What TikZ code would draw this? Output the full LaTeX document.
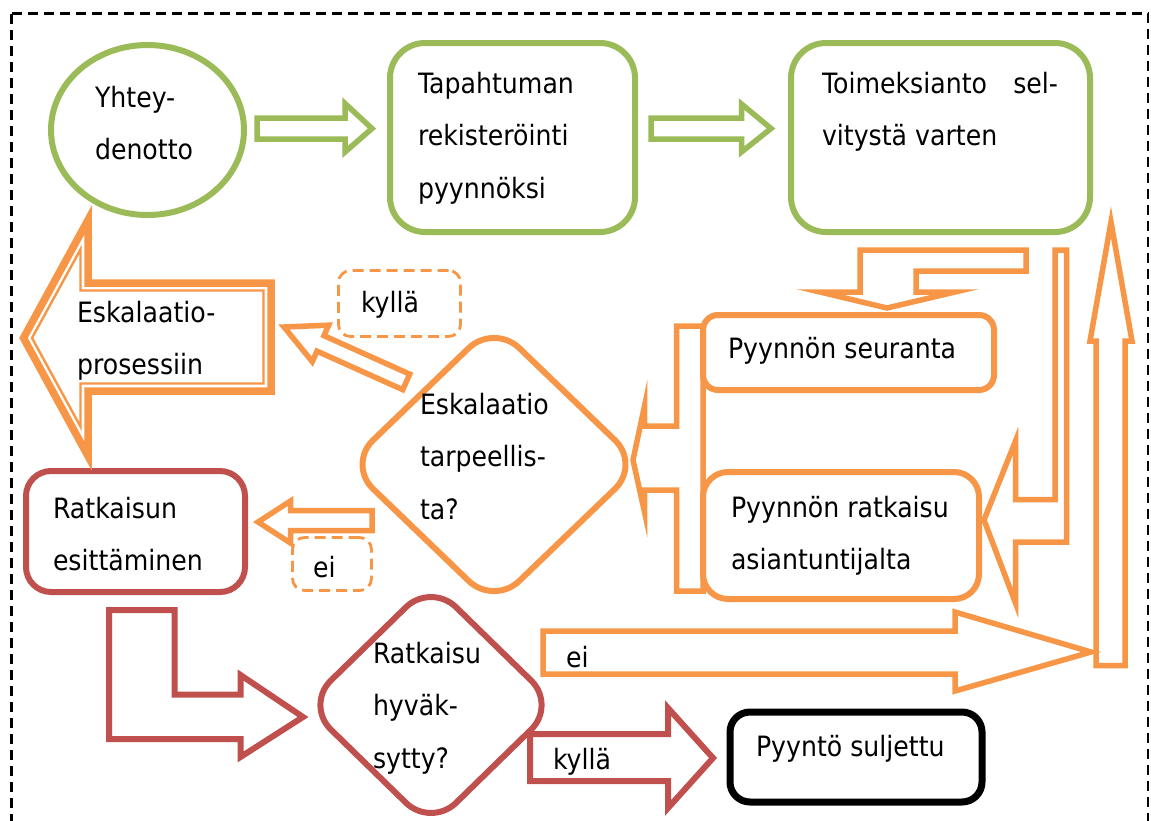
\documentclass[tikz,border=0pt]{standalone}
\usepackage{fontspec}
\setmainfont{DejaVu Sans}[FakeStretch=0.9]
\usetikzlibrary{shapes.geometric}
\definecolor{cg}{HTML}{9BBB59}
\definecolor{co}{HTML}{F79646}
\definecolor{cr}{HTML}{C0504D}
\newcommand{\mlines}[1]{\begin{tabular}[t]{@{}l@{}}#1\end{tabular}}
\begin{document}
\begin{tikzpicture}[x=1pt,y=-1pt,
  txt/.style={anchor=base west, inner sep=0pt, outer sep=0pt, font=\fontsize{28}{52.5}\selectfont},
  gbox/.style={draw=cg, line width=6pt, fill=white, rounded corners=35pt, inner sep=0pt},
  obox/.style={draw=co, line width=6pt, fill=white, inner sep=0pt},
  rbox/.style={draw=cr, line width=6pt, fill=white, inner sep=0pt},
  garrow/.style={draw=cg, line width=5.5pt, fill=white},
  oarrow/.style={draw=co, line width=5.5pt, fill=white},
  rarrow/.style={draw=cr, line width=6pt, fill=white},
  dbox/.style={draw=co, line width=2.8pt, dash pattern=on 11pt off 6pt, rounded corners=12pt, inner sep=0pt}
]
\useasboundingbox (0,0) rectangle (1151,820);
\clip (0,0) rectangle (1151,820);
\draw[line width=2.8pt, dash pattern=on 10pt off 6pt] (11.5,13.5) rectangle (1148,850);

% bracket arrow behind the two request boxes
\draw[oarrow] (703,326) -- (676.5,326) -- (676.5,426) -- (644.5,426) -- (644.5,406)
  -- (633,460) -- (644.5,512) -- (644.5,490) -- (676.5,490) -- (676.5,591) -- (703,591) -- cycle;

% boxes
\node[ellipse, draw=cg, line width=6pt, fill=white, minimum width=193pt, minimum height=170pt, inner sep=0pt] (contact) at (147.5,130) {};
\node[gbox, minimum width=245pt, minimum height=189pt] (register) at (512.5,137.5) {};
\node[gbox, minimum width=299pt, minimum height=189pt] (assign) at (940.5,137.5) {};
\node[obox, rounded corners=15pt, minimum width=291pt, minimum height=75pt] (follow) at (848.5,352.5) {};
\node[obox, rounded corners=25pt, minimum width=276pt, minimum height=127pt] (solve) at (841,535.5) {};
\node[rbox, rounded corners=25pt, minimum width=219pt, minimum height=121pt] (present) at (135.5,531.5) {};
\node[draw=black, line width=7pt, fill=white, rounded corners=20pt, minimum width=252pt, minimum height=90pt, inner sep=0pt] (closed) at (856,757) {};
\node[diamond, draw=co, line width=6pt, fill=white, rounded corners=35pt, minimum width=295pt, minimum height=284pt, inner sep=0pt] (esc) at (494,464.5) {};
\node[diamond, draw=cr, line width=6pt, fill=white, rounded corners=35pt, minimum width=253pt, minimum height=247pt, inner sep=0pt] (accept) at (431,705) {};
\node[dbox, minimum width=122pt, minimum height=66pt] (yes1) at (399.5,303.5) {};
\node[dbox, minimum width=79pt, minimum height=53pt] (no1) at (332,564) {};

% green arrows
\draw[garrow] (257,118) -- (345,118) -- (345,103.5) -- (372,128.5) -- (345,152) -- (345,139) -- (257,139) -- cycle;
\draw[garrow] (651,118) -- (741.5,118) -- (741.5,104) -- (771,128.5) -- (741.5,152) -- (741.5,139) -- (651,139) -- cycle;

% orange arrows
\draw[oarrow] (860,250) -- (1026,250) -- (1026,271) -- (916,271) -- (916,292) -- (955,292) -- (887,308) -- (820,292) -- (860,292) -- cycle;
\draw[oarrow] (1055,250) -- (1066.5,250) -- (1066.5,542) -- (1015.5,542) -- (1015.5,603) -- (984,520) -- (1015.5,441) -- (1015.5,499.5) -- (1055,499.5) -- cycle;
\draw[oarrow] (1096,665.5) -- (1096,341) -- (1090,341) -- (1111,222) -- (1132,341) -- (1125,341) -- (1125,665.5) -- cycle;
\draw[oarrow] (543,631) -- (955,631) -- (955,612) -- (1091,652) -- (955,691) -- (955,674) -- (543,674) -- cycle;
\draw[oarrow] (372,510.5) -- (290.5,510.5) -- (290.5,501) -- (258,522) -- (290.5,543) -- (290.5,530.5) -- (372,530.5) -- cycle;
\begin{scope}[shift={(284,327)}, rotate=-24.2]
  \draw[oarrow] (0,0) -- (40,20) -- (40,8.5) -- (134,8.5) -- (134,-8.5) -- (40,-8.5) -- (40,-20) -- cycle;
\end{scope}
% escalation big arrow (compound line)
\draw[draw=co, line width=7.5pt, fill=white] (23.5,338) -- (88,220) -- (88,283) -- (271,283) -- (271,391) -- (88,391) -- (88,456) -- cycle;
\draw[draw=co, line width=2.4pt] (32,338) -- (80.5,249.4) -- (80.5,290.5) -- (263.5,290.5) -- (263.5,383.5) -- (80.5,383.5) -- (80.5,426.6) -- cycle;

% red arrows
\draw[rarrow] (109,610) -- (174.5,610) -- (174.5,694.5) -- (240.5,694.5) -- (240.5,675) -- (303,717) -- (240.5,757) -- (240.5,739) -- (109,739) -- cycle;
\draw[rarrow] (530,734) -- (668,734) -- (668,708) -- (713,758) -- (668,808) -- (668,781) -- (530,781) -- cycle;

% texts
\node[txt] (t-contact) at (95,107) {\mlines{Yhtey-\\denotto}};
\node[txt] (t-register) at (418,93) {\mlines{Tapahtuman\\rekisteröinti\\pyynnöksi}};
\node[txt] (t-assign) at (822,93) {\mlines{\makebox[236pt][l]{Toimeksianto\hfill sel-}\\vitystä varten}};
\node[txt] (t-follow) at (728,358) {Pyynnön seuranta};
\node[txt] (t-solve) at (731,517) {\mlines{Pyynnön ratkaisu\\asiantuntijalta}};
\node[txt] (t-esc) at (420,414) {\mlines{Eskalaatio\\tarpeellis-\\ta?}};
\node[txt] (t-escproc) at (77,322) {\mlines{Eskalaatio-\\prosessiin}};
\node[txt] (t-present) at (53,518) {\mlines{Ratkaisun\\esittäminen}};
\node[txt] (t-accept) at (373,663) {\mlines{Ratkaisu\\hyväk-\\sytty?}};
\node[txt] (t-closed) at (756,756) {Pyyntö suljettu};
\node[txt] (t-yes1) at (361,312) {kyllä};
\node[txt] (t-no1) at (313,577) {ei};
\node[txt] (t-no2) at (566,667) {ei};
\node[txt] (t-yes2) at (553,769) {kyllä};
\end{tikzpicture}
\end{document}
